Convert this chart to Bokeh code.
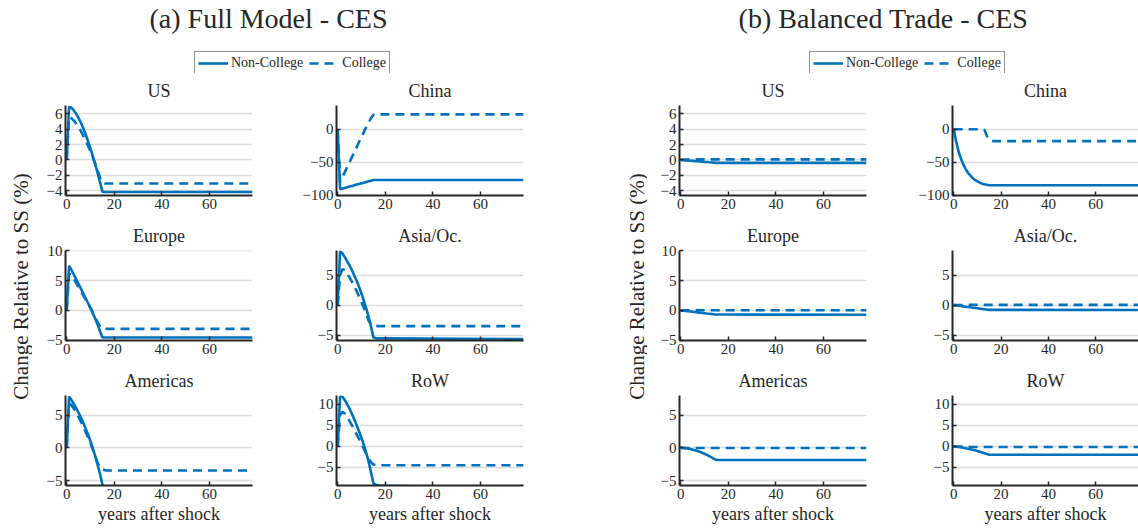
import math
from bokeh.plotting import figure
from bokeh.models import FixedTicker, Range1d, Legend, LegendItem, Label
from bokeh.layouts import row, column
from bokeh.embed import file_html
from bokeh.resources import INLINE

# ---------------- data ----------------
years = [0, 1, 2, 3, 4, 5, 6, 7, 8, 9, 10, 11, 12, 13, 14, 15, 16, 17, 18, 78]

# (a) Full Model - CES
us_nc_full = [0, 6.9, 6.74, 6.41, 5.96, 5.42, 4.78, 4.06, 3.27, 2.39, 1.47, 0.47, -0.59, -1.71, -2.89, -4.1, -4.15, -4.15, -4.15, -4.15]
us_c_full = [0, 5.6, 5.4, 5.1, 4.7, 4.2, 3.7, 3.1, 2.5, 1.8, 1.1, 0.3, -0.5, -1.4, -2.3, -2.9, -3.05, -3.05, -3.05, -3.05]
cn_nc_full = [0, -91, -90, -89, -88, -87, -86, -85, -84, -83, -82, -81, -80, -79, -78, -77, -77, -77, -77, -77]
cn_c_full = [0, -80, -72, -65, -57, -50, -42, -34, -27, -19, -12, -4, 3, 10, 17, 22, 22.5, 22.5, 22.5, 22.5]
eu_nc_full = [0, 7.5, 6.8, 6.0, 5.2, 4.4, 3.6, 2.8, 2.0, 1.2, 0.4, -0.5, -1.4, -2.4, -3.5, -4.55, -4.55, -4.55, -4.55, -4.55]
eu_c_full = [0, 6.2, 5.9, 5.3, 4.6, 3.9, 3.2, 2.5, 1.8, 1.1, 0.4, -0.4, -1.2, -2.0, -2.7, -3.05, -3.1, -3.1, -3.1, -3.1]
as_nc_full = [0, 9.0, 8.6, 8.0, 7.3, 6.6, 5.8, 4.9, 4.0, 3.0, 1.9, 0.7, -0.6, -2.0, -3.6, -5.4, -5.5, -5.55, -5.55, -5.65]
as_c_full = [0, 5.0, 6.0, 5.8, 5.2, 4.6, 3.9, 3.1, 2.3, 1.4, 0.5, -0.5, -1.5, -2.6, -3.2, -3.4, -3.45, -3.5, -3.5, -3.5]
am_nc_full = [0, 7.85, 7.3, 6.7, 6.05, 5.35, 4.6, 3.8, 2.9, 2.0, 1.0, -0.1, -1.3, -2.6, -4.0, -5.6, -7.0, -7.3, -7.4, -7.5]
am_c_full = [0, 6.8, 6.5, 6.0, 5.4, 4.7, 4.0, 3.2, 2.4, 1.6, 0.7, -0.3, -1.3, -2.3, -3.0, -3.3, -3.4, -3.45, -3.45, -3.45]
rw_nc_full = [0, 11.9, 11.8, 11.0, 10.0, 8.9, 7.7, 6.4, 5.0, 3.5, 2.0, 0.3, -1.6, -3.7, -6.2, -8.8, -9.1, -9.25, -9.4, -9.8]
rw_c_full = [0, 7.5, 8.2, 7.8, 7.0, 6.0, 5.0, 3.9, 2.8, 1.7, 0.6, -0.6, -1.8, -2.9, -3.8, -4.3, -4.45, -4.5, -4.5, -4.5]

# (b) Balanced Trade - CES
us_nc_bal = [0, -0.02, -0.05, -0.07, -0.1, -0.12, -0.15, -0.17, -0.2, -0.22, -0.25, -0.27, -0.3, -0.32, -0.35, -0.38, -0.38, -0.38, -0.38, -0.38]
us_c_bal = [0, 0.03, 0.05, 0.06, 0.07, 0.07, 0.07, 0.07, 0.07, 0.07, 0.07, 0.07, 0.07, 0.07, 0.07, 0.07, 0.07, 0.07, 0.07, 0.07]
cn_nc_bal = [0, -18, -33, -44, -53, -60, -66, -70, -74, -77, -79, -81, -82.5, -83.5, -84.3, -85, -85, -85, -85, -85]
cn_c_bal = [0, 0, 0, 0, 0, 0, 0, 0, 0, 0, 0, 0, 0, -1, -10, -16, -17.5, -18, -18, -18]
eu_nc_bal = [0, -0.05, -0.1, -0.14, -0.19, -0.24, -0.28, -0.33, -0.38, -0.42, -0.47, -0.52, -0.56, -0.61, -0.66, -0.7, -0.7, -0.7, -0.7, -0.72]
eu_c_bal = [0, 0.01, 0.02, 0.02, 0.03, 0.03, 0.03, 0.03, 0.03, 0.03, 0.03, 0.03, 0.03, 0.03, 0.03, 0.03, 0.03, 0.03, 0.03, 0.03]
as_nc_bal = [0, -0.05, -0.11, -0.16, -0.21, -0.27, -0.32, -0.37, -0.43, -0.48, -0.53, -0.59, -0.64, -0.69, -0.75, -0.8, -0.8, -0.8, -0.8, -0.82]
as_c_bal = [0, 0.01, 0.02, 0.02, 0.03, 0.03, 0.03, 0.03, 0.03, 0.03, 0.03, 0.03, 0.03, 0.03, 0.03, 0.03, 0.03, 0.03, 0.03, 0.03]
am_nc_bal = [0, -0.01, -0.04, -0.1, -0.18, -0.27, -0.37, -0.48, -0.6, -0.74, -0.9, -1.08, -1.27, -1.47, -1.67, -1.85, -1.85, -1.85, -1.85, -1.85]
am_c_bal = [0, 0.0, -0.01, -0.01, -0.02, -0.02, -0.02, -0.02, -0.02, -0.02, -0.02, -0.02, -0.02, -0.02, -0.02, -0.02, -0.02, -0.02, -0.02, -0.02]
rw_nc_bal = [0, -0.08, -0.16, -0.25, -0.34, -0.44, -0.55, -0.66, -0.8, -0.94, -1.1, -1.28, -1.46, -1.64, -1.83, -2.0, -2.0, -2.0, -2.0, -2.0]
rw_c_bal = [0, -0.02, -0.04, -0.06, -0.08, -0.1, -0.12, -0.13, -0.14, -0.15, -0.15, -0.15, -0.15, -0.15, -0.15, -0.15, -0.15, -0.15, -0.15, -0.15]

region_names = ["US", "China", "Europe", "Asia/Oc.", "Americas", "RoW"]
y_limits = [(-4.6, 7.05), (-100.5, 36), (-5.05, 10.05), (-5.9, 9.1), (-5.75, 8.0), (-9.3, 12.1)]
y_ticks = [[-4, -2, 0, 2, 4, 6], [-100, -50, 0], [-5, 0, 5, 10], [-5, 0, 5], [-5, 0, 5], [-5, 0, 5, 10]]
x_ticks = [0, 20, 40, 60]
legend_labels = ["Non-College", "College"]
panel_titles = ["(a) Full Model - CES", "(b) Balanced Trade - CES"]
y_label = "Change Relative to SS (%)"
x_label = "years after shock"

full_series = [(us_nc_full, us_c_full), (cn_nc_full, cn_c_full), (eu_nc_full, eu_c_full),
               (as_nc_full, as_c_full), (am_nc_full, am_c_full), (rw_nc_full, rw_c_full)]
bal_series = [(us_nc_bal, us_c_bal), (cn_nc_bal, cn_c_bal), (eu_nc_bal, eu_c_bal),
              (as_nc_bal, as_c_bal), (am_nc_bal, am_c_bal), (rw_nc_bal, rw_c_bal)]

# ---------------- style ----------------
FONT = "Liberation Serif"
BLUE = "#0072BD"
AX = "#262626"
DASH = "9 6"
LW = 2.6


def panel(idx, series, left_b, right_b, fw):
    bottom_row = idx >= 4
    p = figure(frame_width=fw, frame_height=90, output_backend="svg", toolbar_location=None,
               x_range=Range1d(-0.5, 78), y_range=Range1d(*y_limits[idx]),
               min_border_left=left_b, min_border_right=right_b,
               min_border_top=32, min_border_bottom=44 if bottom_row else 23,
               title=region_names[idx])
    p.title.align = "center"
    p.title.text_font = FONT
    p.title.text_font_size = "18px"
    p.title.text_font_style = "normal"
    p.title.text_color = AX
    p.title.standoff = 9
    p.outline_line_color = None
    p.xaxis.ticker = FixedTicker(ticks=x_ticks)
    p.yaxis.ticker = FixedTicker(ticks=y_ticks[idx])
    p.xgrid.visible = False
    p.ygrid.grid_line_color = "#dcdcdc"
    p.ygrid.grid_line_width = 1.6
    for ax in p.axis:
        ax.axis_line_width = 2
        ax.axis_line_color = AX
        ax.major_tick_in = 4
        ax.major_tick_out = 0
        ax.major_tick_line_color = AX
        ax.major_tick_line_width = 1.5
        ax.minor_tick_line_color = None
        ax.major_label_text_font = FONT
        ax.major_label_text_font_size = "15px"
        ax.major_label_text_color = AX
        ax.major_label_standoff = 3
    if bottom_row:
        p.xaxis.axis_label = x_label
        p.xaxis.axis_label_text_font = FONT
        p.xaxis.axis_label_text_font_size = "18px"
        p.xaxis.axis_label_text_font_style = "normal"
        p.xaxis.axis_label_text_color = AX
        p.xaxis.axis_label_standoff = 2
    nc, c = series
    p.line(years, nc, line_color=BLUE, line_width=LW)
    p.line(years, c, line_color=BLUE, line_width=LW, line_dash=DASH)
    return p


def header(title, title_x, legend_left):
    h = figure(width=569, height=73, x_range=Range1d(0, 569), y_range=Range1d(0, 73),
               output_backend="svg", toolbar_location=None, min_border=0,
               x_axis_location=None, y_axis_location=None)
    h.grid.visible = False
    h.outline_line_color = None
    h.add_layout(Label(x=title_x, y=55, text=title, text_align="center", text_baseline="middle",
                       text_font=FONT, text_font_size="28px", text_color=AX))
    # legend proxies (kept outside the visible range)
    r1 = h.line([-20, -10], [-20, -20], line_color=BLUE, line_width=LW)
    r2 = h.line([-20, -10], [-20, -20], line_color=BLUE, line_width=LW, line_dash=DASH)
    leg = Legend(items=[LegendItem(label=legend_labels[0], renderers=[r1]),
                        LegendItem(label=legend_labels[1], renderers=[r2])],
                 orientation="horizontal", location=(legend_left, -2), margin=0,
                 padding=3, spacing=6, label_standoff=3, glyph_width=30, glyph_height=14,
                 label_height=14, label_text_font=FONT, label_text_font_size="14px",
                 label_text_color=AX, border_line_color=AX, border_line_width=1.5,
                 background_fill_alpha=1.0)
    h.add_layout(leg)
    return h


def ylab(width, xpos):
    f = figure(width=width, height=456, x_range=Range1d(0, width), y_range=Range1d(0, 456),
               output_backend="svg", toolbar_location=None, min_border=0,
               x_axis_location=None, y_axis_location=None)
    f.grid.visible = False
    f.outline_line_color = None
    f.add_layout(Label(x=xpos, y=243, text=y_label, angle=math.pi / 2, text_align="center",
                       text_baseline="middle", text_font=FONT, text_font_size="21px", text_color=AX))
    return f


def group(series, title, title_x, legend_left, ylab_w, ylab_x, c1_left, c2_left, c2_right, c2_fw):
    rows = []
    for r in range(3):
        i1, i2 = 2 * r, 2 * r + 1
        p1 = panel(i1, series[i1], c1_left, 34, 187)
        p2 = panel(i2, series[i2], c2_left, c2_right, c2_fw)
        rows.append(row(p1, p2))
    body = row(ylab(ylab_w, ylab_x), column(*rows))
    return column(header(title, title_x, legend_left), body)


ga = group(full_series, panel_titles[0], 268, 194, 32, 20, 33, 50, 46, 187)
gb = group(bal_series, panel_titles[1], 314, 240, 78, 67, 32, 52, 0, 186)
page = row(ga, gb)

open("out.html", "w").write(file_html(page, INLINE))
